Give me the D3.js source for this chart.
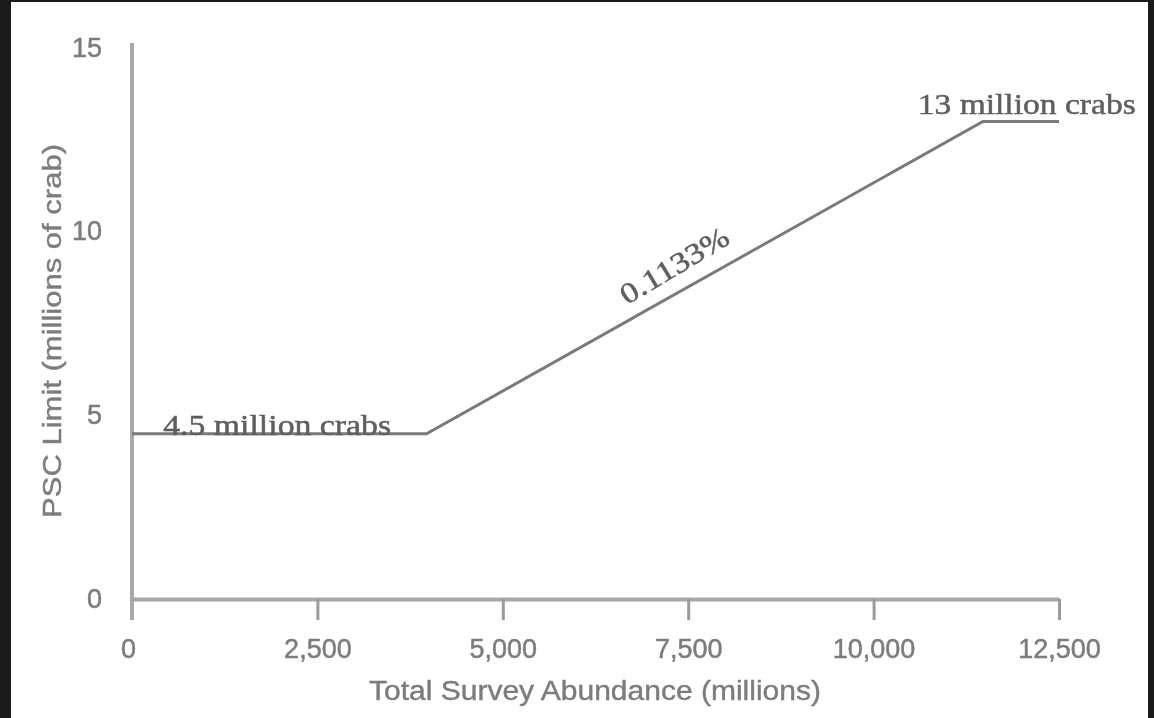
<!DOCTYPE html>
<html>
<head>
<meta charset="utf-8">
<script src="https://cdn.jsdelivr.net/npm/d3@7"></script>
<style>
  html, body { margin: 0; padding: 0; background: #1b1b1b; }
  svg { display: block; }
</style>
</head>
<body>
<svg id="chart" width="1154" height="718"></svg>
<script>
// ---- data ----
const abundance = [0, 3972, 11474, 12500];      // Total survey abundance (millions)
const pscLimit  = [4.5, 4.5, 13, 13];           // PSC limit (millions of crab)
const xTicks = [0, 2500, 5000, 7500, 10000, 12500];
const yTicks = [0, 5, 10, 15];
const floorLabel = "4.5 million crabs";
const capLabel = "13 million crabs";
const rateLabel = "0.1133%";
const xTitle = "Total Survey Abundance (millions)";
const yTitle = "PSC Limit (millions of crab)";

const svg = d3.select("#chart");
const defs = svg.append("defs");
defs.append("filter").attr("id", "scan").append("feGaussianBlur").attr("stdDeviation", 0.6);

// paper
svg.append("rect").attr("x", 11).attr("y", 2).attr("width", 1137).attr("height", 716).attr("fill", "#ffffff");
const g = svg.append("g").attr("filter", "url(#scan)");

const x = d3.scaleLinear().domain([0, 12500]).range([132, 1059]);
const y = d3.scaleLinear().domain([0, 15]).range([599, 48]);

const axisCol = "#a8a8a8";
const textCol = "#7c7c7c";
const sans = "Liberation Sans, Arial, sans-serif";

// x axis
const gx = g.append("g").attr("transform", `translate(0,${y(0)})`)
  .call(d3.axisBottom(x).tickValues(xTicks).tickFormat(d3.format(",")).tickSize(21).tickSizeOuter(0).tickPadding(24));
gx.select(".domain").attr("stroke", axisCol).attr("stroke-width", 4);
gx.selectAll(".tick line").attr("stroke", "#9a9a9a").attr("stroke-width", 3);
gx.selectAll(".tick text").attr("fill", textCol).attr("stroke", textCol).attr("stroke-width", 0.5)
  .attr("font-family", sans).attr("font-size", 27).attr("dy", "0.5em");
gx.select(".tick text").attr("dx", -4);

// y axis
const gy = g.append("g").attr("transform", `translate(${x(0)},0)`)
  .call(d3.axisLeft(y).tickValues(yTicks).tickSize(0).tickPadding(30));
gy.select(".domain").remove();
gy.selectAll(".tick text").attr("fill", textCol).attr("stroke", textCol).attr("stroke-width", 0.5)
  .attr("font-family", sans).attr("font-size", 27).attr("dy", "0.3em");
g.append("line").attr("x1", x(0)).attr("x2", x(0)).attr("y1", y(15) - 5).attr("y2", y(0) + 21)
  .attr("stroke", axisCol).attr("stroke-width", 4);

// axis titles
g.append("text").attr("x", 595).attr("y", 700).attr("text-anchor", "middle")
  .attr("fill", textCol).attr("stroke", textCol).attr("stroke-width", 0.4)
  .attr("font-family", sans).attr("font-size", 27)
  .attr("textLength", 452).attr("lengthAdjust", "spacingAndGlyphs").text(xTitle);
g.append("text").attr("transform", "translate(61,331) rotate(-90)").attr("text-anchor", "middle")
  .attr("fill", textCol).attr("stroke", textCol).attr("stroke-width", 0.4)
  .attr("font-family", sans).attr("font-size", 26)
  .attr("textLength", 374).attr("lengthAdjust", "spacingAndGlyphs").text(yTitle);

// PSC limit line
const line = d3.line().x((d, i) => x(abundance[i])).y((d, i) => y(pscLimit[i]));
g.append("path").datum(pscLimit).attr("d", line).attr("fill", "none")
  .attr("stroke", "#7a7a7a").attr("stroke-width", 3);

// annotations
const serif = "Liberation Serif, Times New Roman, serif";
const annCol = "#5e5e5e";
g.append("text").attr("x", x(420)).attr("y", y(4.5) + 1).attr("fill", annCol)
  .attr("stroke", annCol).attr("stroke-width", 0.5)
  .attr("font-family", serif).attr("font-size", 30)
  .attr("textLength", 228).attr("lengthAdjust", "spacingAndGlyphs").text(floorLabel);
g.append("text").attr("x", x(10595)).attr("y", y(13) - 7).attr("fill", annCol)
  .attr("stroke", annCol).attr("stroke-width", 0.5)
  .attr("font-family", serif).attr("font-size", 30)
  .attr("textLength", 218).attr("lengthAdjust", "spacingAndGlyphs").text(capLabel);
const mx = x(7380), my = y(8.85);
g.append("text").attr("transform", `translate(${mx},${my}) rotate(-31)`).attr("text-anchor", "middle")
  .attr("fill", annCol).attr("stroke", annCol).attr("stroke-width", 0.5)
  .attr("font-family", serif).attr("font-size", 29)
  .attr("textLength", 122).attr("lengthAdjust", "spacingAndGlyphs").text(rateLabel);
</script>
</body>
</html>
